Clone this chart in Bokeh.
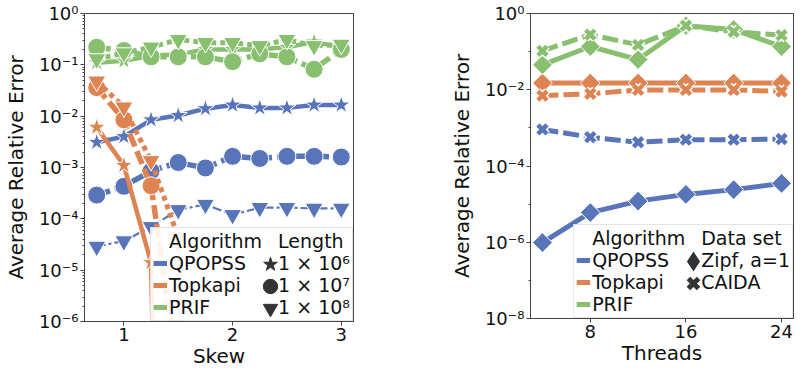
import numpy as np
from bokeh.plotting import figure
from bokeh.models import FixedTicker, CustomJSTickFormatter, Legend, LegendItem, Range1d
from bokeh.layouts import row
from bokeh.embed import file_html
from bokeh.resources import INLINE

# ---------------- data: left panel (error vs skew) ----------------
skew = [0.75, 1.0, 1.25, 1.5, 1.75, 2.0, 2.25, 2.5, 2.75, 3.0]
algorithms = ["QPOPSS", "Topkapi", "PRIF"]
length_labels = ["1 × 10⁶", "1 × 10⁷", "1 × 10⁸"]

qpopss_1e6 = [3.1e-3, 4.0e-3, 8.5e-3, 1.03e-2, 1.4e-2, 1.65e-2, 1.45e-2, 1.45e-2, 1.65e-2, 1.65e-2]
qpopss_1e7 = [2.9e-4, 4.3e-4, 8.5e-4, 1.25e-3, 9.8e-4, 1.65e-3, 1.5e-3, 1.65e-3, 1.65e-3, 1.6e-3]
qpopss_1e8 = [2.9e-5, 3.7e-5, 7.0e-5, 1.5e-4, 1.9e-4, 1.2e-4, 1.65e-4, 1.65e-4, 1.6e-4, 1.6e-4]
topkapi_1e6 = [6.1e-3, 1.1e-3, 1.4e-5, 0, 0, 0, 0, 0, 0, 0]
topkapi_1e7 = [3.6e-2, 8.5e-3, 4.4e-4, 1e-7, 0, 0, 0, 0, 0, 0]
topkapi_1e8 = [4.8e-2, 1.5e-2, 1.35e-3, 4.4e-5, 0, 0, 0, 0, 0, 0]
prif_1e6 = [0.11, 0.12, 0.15, 0.16, 0.2, 0.2, 0.2, 0.22, 0.28, 0.22]
prif_1e7 = [0.22, 0.19, 0.143, 0.143, 0.143, 0.115, 0.164, 0.143, 0.082, 0.2]
prif_1e8 = [0.13, 0.17, 0.22, 0.31, 0.27, 0.27, 0.235, 0.31, 0.235, 0.25]

# ---------------- data: right panel (error vs threads) ----------------
threads = [4, 8, 12, 16, 20, 24]
dataset_labels = ["Zipf, a=1", "CAIDA"]
zipf_qpopss = [9.8e-7, 6.0e-6, 1.2e-5, 1.8e-5, 2.4e-5, 3.5e-5]
zipf_topkapi = [1.5e-2, 1.5e-2, 1.5e-2, 1.5e-2, 1.5e-2, 1.5e-2]
zipf_prif = [4.5e-2, 0.136, 6.2e-2, 0.48, 0.38, 0.136]
caida_qpopss = [9.1e-4, 5.7e-4, 4.2e-4, 4.9e-4, 4.9e-4, 5.1e-4]
caida_topkapi = [7.0e-3, 7.8e-3, 9.9e-3, 9.9e-3, 9.9e-3, 9.0e-3]
caida_prif = [0.105, 0.28, 0.15, 0.48, 0.33, 0.27]

left_yticks = [1e-6, 1e-5, 1e-4, 1e-3, 1e-2, 1e-1, 1]
right_yticks = [1e-8, 1e-6, 1e-4, 1e-2, 1]
right_yminor = [1e-7, 1e-5, 1e-3, 1e-1]

# ---------------- styles ----------------
BLUE, ORANGE, GREEN = "#5975b9", "#dd8452", "#88c070"
COLORS = [BLUE, ORANGE, GREEN]
FONT = "DejaVu Sans"
TICK_FS, LABEL_FS, LEG_FS = "18px", "20px", "19px"
AX_COL = "#444444"
OFF_SCALE = 1e-30  # zero values are pushed far below the axis, like matplotlib's clip
NAN = [float("nan")]  # legend-only renderers: one invisible point

sup_fmt = CustomJSTickFormatter(code="""
const sup = {"-": "\u207b", "0": "\u2070", "1": "\u00b9", "2": "\u00b2", "3": "\u00b3",
             "4": "\u2074", "5": "\u2075", "6": "\u2076", "7": "\u2077", "8": "\u2078", "9": "\u2079"};
const e = Math.round(Math.log10(tick));
return "10" + String(e).split("").map(c => sup[c]).join("");
""")


def minor_log(lo, hi):
    out = []
    for e in range(lo, hi):
        for k in range(2, 10):
            out.append(k * 10.0 ** e)
    return out


def style(p, xlabel, xticks, yticks, yminor):
    p.xaxis.ticker = FixedTicker(ticks=xticks)
    p.yaxis.ticker = FixedTicker(ticks=yticks, minor_ticks=yminor)
    p.yaxis.formatter = sup_fmt
    p.xaxis.axis_label = xlabel
    p.yaxis.axis_label = "Average Relative Error"
    for ax in p.axis:
        ax.axis_label_text_font = FONT
        ax.axis_label_text_font_size = LABEL_FS
        ax.axis_label_text_font_style = "normal"
        ax.axis_label_text_color = "#111111"
        ax.major_label_text_font = FONT
        ax.major_label_text_font_size = TICK_FS
        ax.major_label_text_color = "#111111"
        ax.axis_line_color = AX_COL
        ax.major_tick_line_color = AX_COL
        ax.minor_tick_line_color = AX_COL
        ax.major_tick_in = 0
        ax.major_tick_out = 4
        ax.minor_tick_in = 0
        ax.minor_tick_out = 2
        ax.major_label_standoff = 2
    p.xaxis.axis_label_standoff = 0
    p.yaxis.axis_label_standoff = 8
    p.xgrid.visible = False
    p.ygrid.visible = False
    p.outline_line_color = AX_COL
    p.outline_line_width = 1
    p.outline_line_alpha = 1
    p.background_fill_color = "white"
    p.border_fill_color = "white"


def clip0(v):
    a = np.asarray(v, dtype=float)
    return np.where(a > 0, a, OFF_SCALE)


def series(p, x, y, color, marker, dash, width, msize, angle=0.0):
    yy = clip0(y)
    p.line(x, yy, line_color=color, line_width=width, line_dash=dash, line_join="round")
    if marker == "x":
        p.scatter(x, yy, marker="x", size=msize, line_color="white", line_width=7.5)
        p.scatter(x, yy, marker="x", size=msize, line_color=color, line_width=4.5)
    else:
        p.scatter(x, yy, marker=marker, size=msize, angle=angle, fill_color=color,
                  line_color="white", line_width=1)


def build_legend(p, header1, header2, col2_labels, col2_markers, fw, col2_label_w):
    blank = p.line(NAN, NAN, line_alpha=0)
    items = [LegendItem(label=header1, renderers=[blank])]
    for name, c in zip(algorithms, COLORS):
        r = p.line(NAN, NAN, line_color=c, line_width=5)
        items.append(LegendItem(label=name, renderers=[r]))
    items.append(LegendItem(label=header2, renderers=[blank]))
    for lab in col2_labels:
        items.append(LegendItem(label=lab, renderers=[blank]))
    pad, gw, gh, stand, row_h = 2, 14, 18, 2, 22
    leg = Legend(items=items, location="bottom_right", nrows=4, orientation="vertical",
                 margin=0, padding=pad, spacing=0, glyph_width=gw, glyph_height=gh,
                 label_standoff=stand, label_text_font=FONT, label_text_font_size=LEG_FS,
                 label_text_color="#111111", label_height=gh,
                 border_line_color="#cccccc", border_line_width=1,
                 background_fill_color="white", background_fill_alpha=0.9)
    p.add_layout(leg)
    # larger marker glyphs drawn over the (invisible) second-column glyph slots
    G = 36
    cx = fw - (pad + col2_label_w + stand + gw / 2)
    for k, mk in enumerate(col2_markers):
        row_from_bottom = 3 - (k + 1)  # rows below the header
        cy = pad + row_h * (row_from_bottom + 0.5)
        kind, lw = mk
        r = p.scatter(NAN, NAN, marker=kind, size=10, fill_color="#333333",
                      line_color="#333333", line_width=lw, line_join="miter")
        m = Legend(items=[LegendItem(label=" ", renderers=[r])],
                   location=(cx - G / 2, cy - G / 2), glyph_width=G, glyph_height=G,
                   padding=0, margin=0, spacing=0, label_standoff=0, label_width=0,
                   label_height=0, border_line_alpha=0, background_fill_alpha=0,
                   label_text_font_size="1px")
        p.add_layout(m)


# ---------------- left figure ----------------
FW1, FH1 = 269, 308
p1 = figure(frame_width=FW1, frame_height=FH1, min_border_left=77, min_border_right=56,
            min_border_top=10, min_border_bottom=0, y_axis_type="log",
            x_range=Range1d(0.6375, 3.1125), y_range=Range1d(1e-6, 1),
            output_backend="svg", toolbar_location=None)
style(p1, "Skew", [1, 2, 3], left_yticks, minor_log(-6, 0))

left_data = [[qpopss_1e6, qpopss_1e7, qpopss_1e8],
             [topkapi_1e6, topkapi_1e7, topkapi_1e8],
             [prif_1e6, prif_1e7, prif_1e8]]
len_markers = [("star", 19), ("circle", 18), ("inverted_triangle", 18)]
for ai, (rows, c) in enumerate(zip(left_data, COLORS)):
    for li, ys in enumerate(rows):
        mk, ms = len_markers[li]
        if li == 0:
            dash, w = "solid", 4.5
        elif li == 1:
            dash, w = "14 5", 5.5
        else:
            dash, w = ("9 3 3 3", 2.2) if ai == 0 else ("5 4", 5)
        series(p1, skew, ys, c, mk, dash, w, ms)

build_legend(p1, "Algorithm", "Length", length_labels,
             [("star", 1), ("circle", 1), ("inverted_triangle", 1)], FW1, 72)

# ---------------- right figure ----------------
FW2, FH2 = 263, 305
p2 = figure(frame_width=FW2, frame_height=FH2, min_border_left=121, min_border_right=2,
            min_border_top=13, min_border_bottom=0, y_axis_type="log",
            x_range=Range1d(3, 25), y_range=Range1d(1e-8, 1),
            output_backend="svg", toolbar_location=None)
style(p2, "Threads", [8, 16, 24], right_yticks, right_yminor)

right_data = [[zipf_qpopss, caida_qpopss],
              [zipf_topkapi, caida_topkapi],
              [zipf_prif, caida_prif]]
for rows, c in zip(right_data, COLORS):
    series(p2, threads, rows[0], c, "square", "solid", 5, 14, angle=np.pi / 4)
    series(p2, threads, rows[1], c, "x", "16 5", 5, 13)

build_legend(p2, "Algorithm", "Data set", dataset_labels,
             [("diamond", 3), ("x", 5)], FW2, 89)

layout = row(p1, p2)
open("out.html", "w").write(file_html(layout, INLINE))
